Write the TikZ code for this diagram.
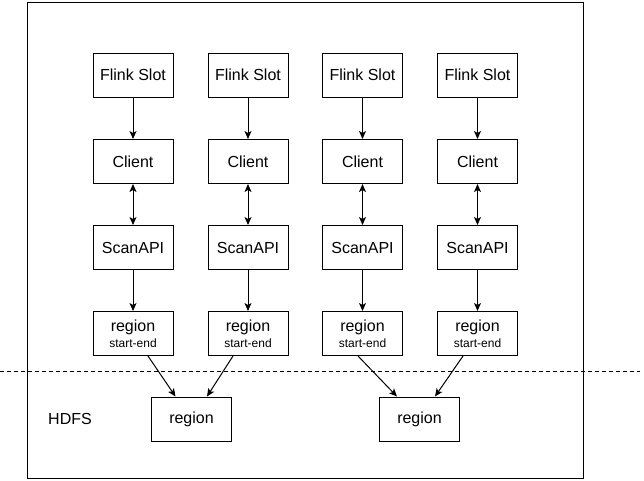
\documentclass[tikz,border=0pt]{standalone}
\usepackage{fontspec}
\setmainfont{Liberation Sans}
\usetikzlibrary{arrows.meta}
\newcommand\bigfont[0]{\fontsize{16}{19}\selectfont}
\newcommand\smallfont[0]{\fontsize{12}{14}\selectfont}
\tikzset{box/.style={draw,line width=1pt,minimum width=80pt,minimum height=44pt,inner sep=0pt,font=\bigfont,align=center},
  link/.style={line width=1pt,-{Stealth[length=8pt,width=7pt,inset=2pt]}},
  twolink/.style={line width=1pt,{Stealth[length=8pt,width=7pt,inset=2pt]}-{Stealth[length=8pt,width=7pt,inset=2pt]}}}

\begin{document}
\begin{tikzpicture}[x=1pt,y=-1pt]

\useasboundingbox (0,0) rectangle (644,480);
\draw[line width=1pt] (27,2) rectangle (583,478);

\node[box] (f1) at (133,75) {Flink Slot};
\node[box] (f2) at (248,75) {Flink Slot};
\node[box] (f3) at (362.5,75) {Flink Slot};
\node[box] (f4) at (477.5,75) {Flink Slot};

\node[box] (c1) at (133,161.5) {Client};
\node[box] (c2) at (248,161.5) {Client};
\node[box] (c3) at (362.5,161.5) {Client};
\node[box] (c4) at (477.5,161.5) {Client};

\node[box] (s1) at (133,247.5) {ScanAPI};
\node[box] (s2) at (248,247.5) {ScanAPI};
\node[box] (s3) at (362.5,247.5) {ScanAPI};
\node[box] (s4) at (477.5,247.5) {ScanAPI};

\node[box] (r1) at (133,333.5) {region\\[-3pt]{\smallfont start-end}};
\node[box] (r2) at (248,333.5) {region\\[-3pt]{\smallfont start-end}};
\node[box] (r3) at (362.5,333.5) {region\\[-3pt]{\smallfont start-end}};
\node[box] (r4) at (477.5,333.5) {region\\[-3pt]{\smallfont start-end}};

\node[box] (h1) at (191.5,419) {region};
\node[box] (h2) at (419.5,419) {region};
\node[font=\bigfont,anchor=west,inner sep=0pt] (hdfs) at (48,419) {HDFS};

% hdfs boundary
\coordinate (dl) at (0,371);
\coordinate (dr) at (640,371);
\draw[line width=1pt,dash pattern=on 4pt off 3pt] (dl) -- (dr);

\draw[link] (f1) -- (c1);
\draw[link] (f2) -- (c2);
\draw[link] (f3) -- (c3);
\draw[link] (f4) -- (c4);

\draw[twolink] (c1) -- (s1);
\draw[twolink] (c2) -- (s2);
\draw[twolink] (c3) -- (s3);
\draw[twolink] (c4) -- (s4);

\draw[link] (s1) -- (r1);
\draw[link] (s2) -- (r2);
\draw[link] (s3) -- (r3);
\draw[link] (s4) -- (r4);

\draw[link] ([xshift=15pt]r1.south) -- ([xshift=-16pt]h1.north);
\draw[link] ([xshift=-15pt]r2.south) -- ([xshift=15.5pt]h1.north);
\draw[link] ([xshift=-4.5pt]r3.south) -- ([xshift=-22.5pt]h2.north);
\draw[link] ([xshift=-14.5pt]r4.south) -- ([xshift=15.5pt]h2.north);

\end{tikzpicture}
\end{document}
